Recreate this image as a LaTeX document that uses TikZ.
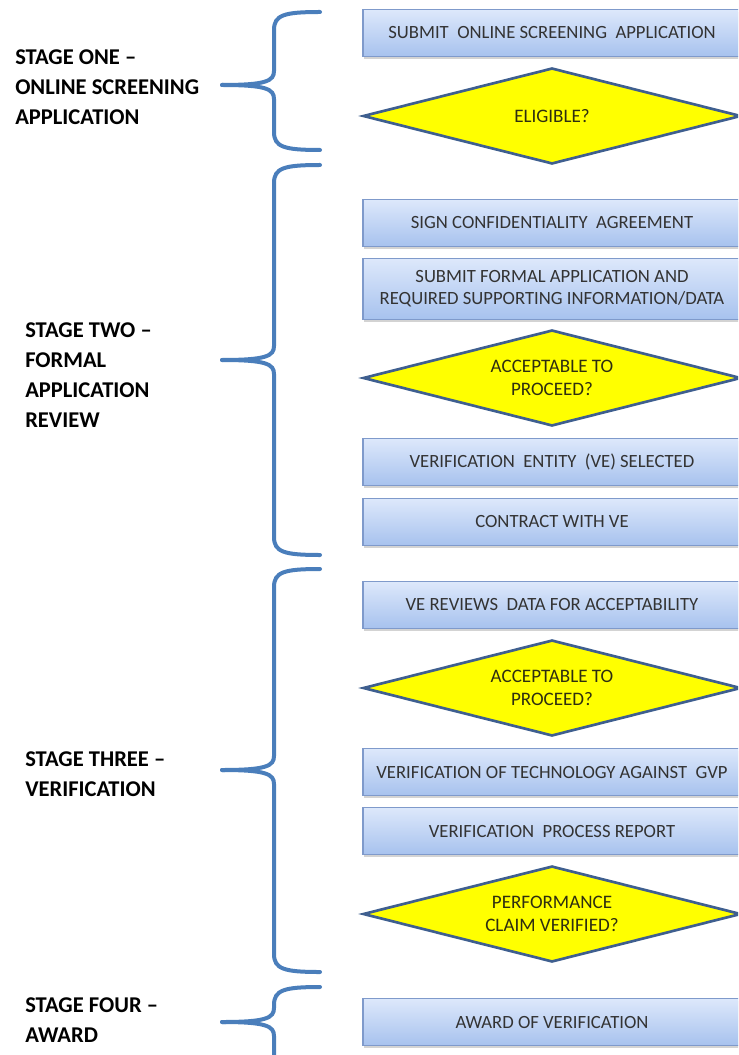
\documentclass[tikz,border=0pt]{standalone}
\usepackage{fontspec}
\setmainfont{Carlito}
\usetikzlibrary{shapes.geometric,shadows}
\definecolor{bracecol}{HTML}{4A7EBB}
\definecolor{boxtop}{HTML}{DDE8FB}
\definecolor{boxbot}{HTML}{A7C2EE}
\definecolor{boxline}{HTML}{7F9ACB}
\definecolor{diafill}{HTML}{FFFF00}
\definecolor{dialine}{HTML}{3F5F8F}
\definecolor{txt}{HTML}{333333}
\definecolor{diatxt}{HTML}{2E2E10}
\tikzset{
  stepbox/.style={rectangle, draw=boxline, line width=0.8pt, top color=boxtop, bottom color=boxbot,
    minimum width=283.5pt, minimum height=35.25pt, align=center, text=txt,
    font=\fontsize{14}{16.5}\selectfont, inner sep=2pt,
    drop shadow={shadow xshift=1pt, shadow yshift=-2pt, opacity=0.35}},
  decision/.style={diamond, draw=dialine, line width=2pt, fill=diafill, aspect=3.9,
    minimum width=283.5pt, minimum height=72pt, inner sep=0pt, align=center, text=diatxt,
    font=\fontsize{14.3}{17.3}\selectfont},
  stagelabel/.style={anchor=west, align=left, inner sep=0pt,
    font=\fontsize{16.9}{22.5}\selectfont\bfseries},
  bracestyle/.style={draw=bracecol, line width=3pt, line cap=round}
}
\newcommand\stagebrace[3]{%
  \draw[bracestyle] (320,#1) .. controls (284,#1) and (274,#1+3) .. (274,#1+18) -- (274,#2-14)
     .. controls (274,#2-4) and (266,#2) .. (222,#2);
  \draw[bracestyle] (222,#2) .. controls (266,#2) and (274,#2+4) .. (274,#2+14) -- (274,#3-18)
     .. controls (274,#3-3) and (284,#3) .. (320,#3);
}
\begin{document}
\begin{tikzpicture}[x=0.75pt,y=-0.75pt]
\useasboundingbox (0,0) rectangle (738,1055);
\clip (0,0) rectangle (738,1055);

% stage labels
\node[stagelabel] (s1) at (15,87) {STAGE ONE –\\ONLINE SCREENING\\APPLICATION};
\node[stagelabel] (s2) at (25,375) {STAGE TWO –\\FORMAL\\APPLICATION\\REVIEW};
\node[stagelabel] (s3) at (25,774) {STAGE THREE –\\VERIFICATION};
\node[stagelabel] (s4) at (25,1020) {STAGE FOUR –\\AWARD};

% braces
\stagebrace{12}{85}{150}
\stagebrace{165}{360}{555}
\stagebrace{569}{770}{972}
\stagebrace{987}{1022}{1075}

% steps
\node[stepbox] (b1) at (552,33) {SUBMIT \ ONLINE SCREENING \ APPLICATION};
\node[decision] (d1) at (552,116) {ELIGIBLE?};
\node[stepbox] (b2) at (552,223) {SIGN CONFIDENTIALITY \ AGREEMENT};
\node[stepbox, minimum height=45.75pt] (b3) at (552,289) {SUBMIT FORMAL APPLICATION AND\\REQUIRED SUPPORTING INFORMATION/DATA};
\node[decision] (d2) at (552,378) {ACCEPTABLE TO\\PROCEED?};
\node[stepbox] (b4) at (552,462) {VERIFICATION \ ENTITY \ (VE) SELECTED};
\node[stepbox] (b5) at (552,522) {CONTRACT WITH VE};
\node[stepbox] (b6) at (552,605) {VE REVIEWS \ DATA FOR ACCEPTABILITY};
\node[decision] (d3) at (552,688) {ACCEPTABLE TO\\PROCEED?};
\node[stepbox] (b7) at (552,772) {VERIFICATION OF TECHNOLOGY AGAINST \ GVP};
\node[stepbox] (b8) at (552,831) {VERIFICATION \ PROCESS REPORT};
\node[decision] (d4) at (552,914) {PERFORMANCE\\CLAIM VERIFIED?};
\node[stepbox] (b9) at (552,1022) {AWARD OF VERIFICATION};
\end{tikzpicture}
\end{document}
